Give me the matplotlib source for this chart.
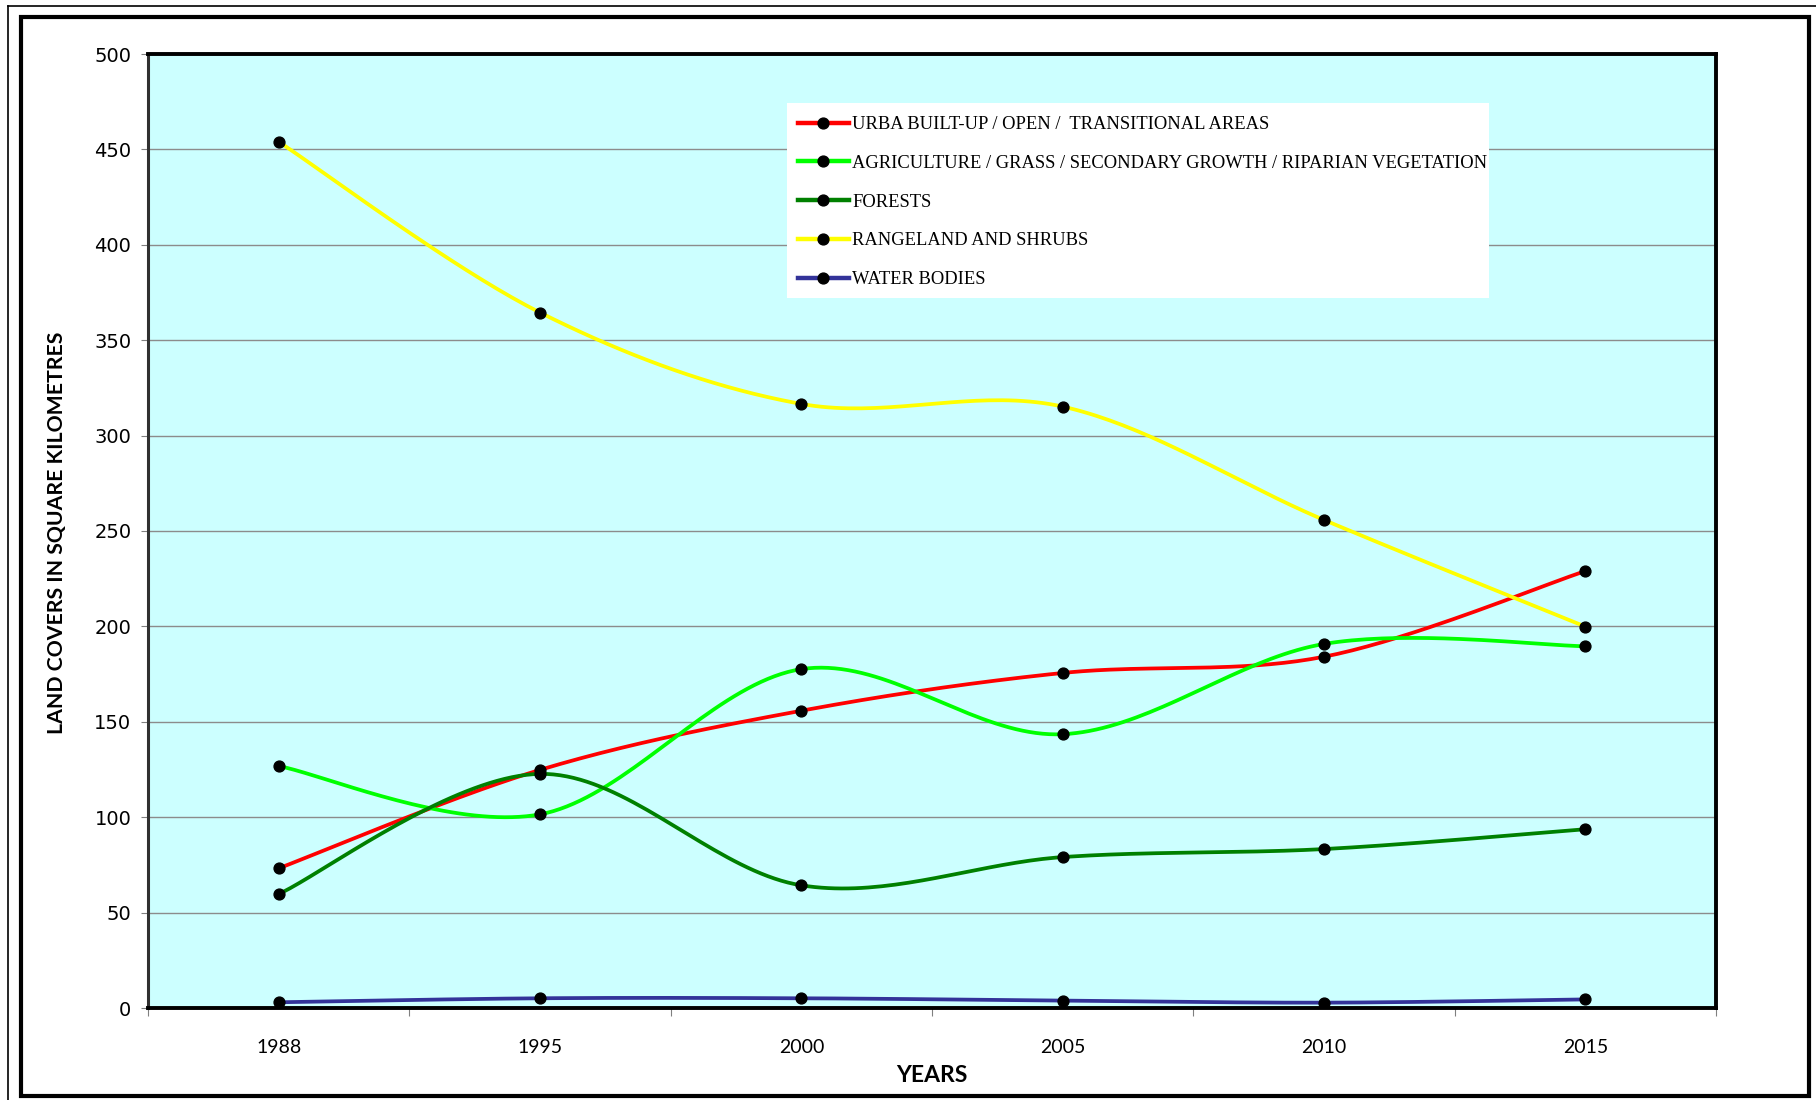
import numpy as np
import matplotlib
matplotlib.use("Agg")
import matplotlib.pyplot as plt
from matplotlib.lines import Line2D
from matplotlib.patches import Rectangle

# ---- data (square kilometres) ----
years = ["1988", "1995", "2000", "2005", "2010", "2015"]
urban = [73.2, 124.8, 155.8, 175.6, 184.1, 229.0]
agriculture = [126.8, 101.5, 177.6, 143.5, 190.8, 189.6]
forests = [59.7, 122.7, 64.3, 79.1, 83.3, 93.7]
rangeland = [454.0, 364.5, 316.6, 315.2, 255.8, 199.9]
water = [3.0, 5.1, 5.1, 3.9, 2.8, 4.5]

series_names = [
    "URBA BUILT-UP / OPEN /  TRANSITIONAL AREAS",
    "AGRICULTURE / GRASS / SECONDARY GROWTH / RIPARIAN VEGETATION",
    "FORESTS",
    "RANGELAND AND SHRUBS",
    "WATER BODIES",
]
series_values = [urban, agriculture, forests, rangeland, water]
series_colors = ["#FF0000", "#00FF00", "#008000", "#FFFF00", "#333399"]

y_ticks = [0, 50, 100, 150, 200, 250, 300, 350, 400, 450, 500]


def smooth(xs, ys, n=40):
    """Catmull-Rom style cubic Bezier smoothing through every point."""
    p = np.column_stack([xs, ys]).astype(float)
    m = len(p)
    out = [p[0]]
    t = np.linspace(0, 1, n)[1:, None]
    for i in range(m - 1):
        p0 = p[max(i - 1, 0)]
        p1 = p[i]
        p2 = p[i + 1]
        p3 = p[min(i + 2, m - 1)]
        c1 = p1 + (p2 - p0) / 6.0
        c2 = p2 - (p3 - p1) / 6.0
        seg = ((1 - t) ** 3) * p1 + 3 * ((1 - t) ** 2) * t * c1 \
            + 3 * (1 - t) * t ** 2 * c2 + t ** 3 * p2
        out.extend(seg)
    out = np.array(out)
    return out[:, 0], out[:, 1]


W, H = 1816, 1100
fig = plt.figure(figsize=(W / 100, H / 100), dpi=100)
fig.patch.set_facecolor("white")

# outer frames
fig.add_artist(Line2D([8 / W, 1.0], [1 - 6 / H, 1 - 6 / H], color="black", lw=1.2,
                      transform=fig.transFigure))
fig.add_artist(Line2D([8 / W, 8 / W], [0, 1 - 6 / H], color="black", lw=1.2,
                      transform=fig.transFigure))
fig.add_artist(Rectangle((21 / W, 1 - 1096 / H), (1809 - 21) / W, (1096 - 17) / H,
                         transform=fig.transFigure, fill=False, edgecolor="black",
                         lw=3.0))

ax = fig.add_axes([148 / W, 1 - 1008 / H, 1568 / W, 954 / H])
ax.set_facecolor("#CCFFFF")

x = np.arange(len(years))
for name, vals, col in zip(series_names, series_values, series_colors):
    sx, sy = smooth(x, vals)
    ax.plot(sx, sy, color=col, lw=2.7, solid_capstyle="round", zorder=3)
    ax.plot(x, vals, linestyle="none", marker="o", markersize=7.8,
            markerfacecolor="black", markeredgecolor="black", zorder=4)

ax.set_xlim(-0.5, len(years) - 0.5)
ax.set_ylim(0, 500)
ax.set_yticks(y_ticks)
ax.set_yticklabels([str(v) for v in y_ticks], fontsize=14, family="DejaVu Sans")
ax.yaxis.grid(True, color="#8C8C8C", lw=1.0)
ax.set_axisbelow(True)
ax.tick_params(axis="y", length=5, color="#808080", pad=7)

# category boundaries carry the tick marks, labels sit at the centres
ax.set_xticks(np.arange(-0.5, len(years), 1.0))
ax.set_xticklabels([])
ax.set_xticks(x, minor=True)
ax.set_xticklabels(years, minor=True, fontsize=14,
                   family=["Liberation Sans Narrow", "Lato"])
ax.tick_params(axis="x", which="major", length=6, color="#808080")
ax.tick_params(axis="x", which="minor", length=0, pad=22)

for side in ["top", "right", "bottom"]:
    ax.spines[side].set_color("black")
    ax.spines[side].set_linewidth(2.8)
ax.spines["left"].set_color("#303030")
ax.spines["left"].set_linewidth(2.2)

fig.text(57 / W, 1 - 533 / H, "LAND COVERS IN SQUARE KILOMETRES", rotation=90,
         ha="center", va="center", fontsize=15.3, fontweight="bold", family="Lato")
fig.text(932 / W, 1 - 1076 / H, "YEARS", ha="center", va="center",
         fontsize=16.5, fontweight="bold", family="Lato")

# legend on a white panel
fig.add_artist(Rectangle((787 / W, 1 - 298 / H), (1489 - 787) / W, (298 - 103) / H,
                         transform=fig.transFigure, facecolor="white",
                         edgecolor="none", zorder=5))
handles = [Line2D([], [], color=c, lw=3.2, marker="o", markersize=7.8,
                  markerfacecolor="black", markeredgecolor="black")
           for c in series_colors]
leg = fig.legend(handles, series_names, loc="upper left",
                 bbox_to_anchor=(798 / W, 1 - 116 / H), frameon=False,
                 prop={"family": "Liberation Serif", "size": 13.3},
                 handlelength=2.75, handletextpad=0.2, labelspacing=1.18,
                 borderpad=0, borderaxespad=0)
leg.set_zorder(6)

fig.savefig("out.png", dpi=100)
